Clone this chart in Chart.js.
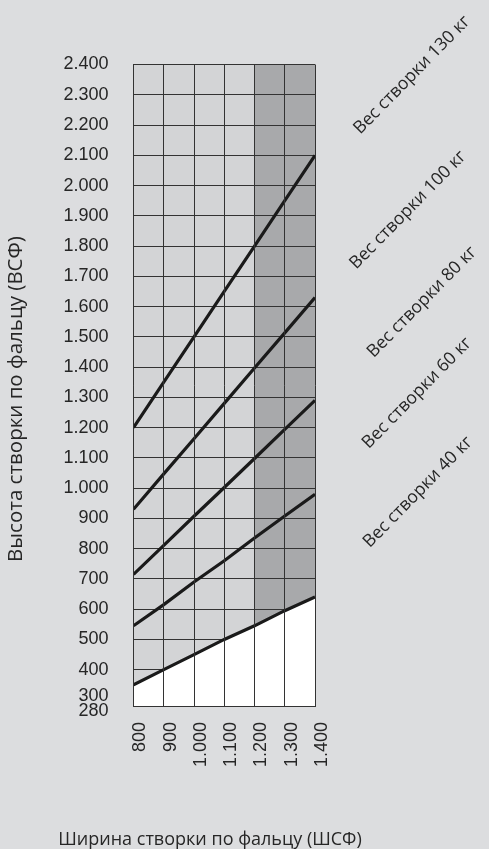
<!DOCTYPE html>
<html><head><meta charset="utf-8">
<script src="https://cdn.jsdelivr.net/npm/chart.js@4.4.0/dist/chart.umd.min.js"></script>
<style>html,body{margin:0;padding:0;background:#dcdddf;overflow:hidden}#wrap{width:489px;height:849px;position:relative}</style>
</head><body><div id="wrap"><canvas id="c"></canvas></div>
<script>
// ---- data ----
const widths = [800, 900, 1000, 1100, 1200, 1300, 1400];
const xTickLabels = ['800', '900', '1.000', '1.100', '1.200', '1.300', '1.400'];
const yTickValues = [280, 300, 400, 500, 600, 700, 800, 900, 1000, 1100, 1200, 1300, 1400, 1500, 1600, 1700, 1800, 1900, 2000, 2100, 2200, 2300, 2400];
const yTickLabels = ['280', '300', '400', '500', '600', '700', '800', '900', '1.000', '1.100', '1.200', '1.300', '1.400', '1.500', '1.600', '1.700', '1.800', '1.900', '2.000', '2.100', '2.200', '2.300', '2.400'];
const seriesNames = ['Вес створки 40 кг', 'Вес створки 60 кг', 'Вес створки 80 кг', 'Вес створки 100 кг', 'Вес створки 130 кг'];
const weight40 = [350, 400, 450, 500, 545, 595, 640];
const weight60 = [545, 615, 690, 760, 835, 908, 980];
const weight80 = [715, 811, 907, 1002, 1098, 1194, 1290];
const weight100 = [930, 1047, 1163, 1280, 1397, 1513, 1630];
const weight130 = [1200, 1350, 1500, 1650, 1800, 1950, 2100];
const darkZone = [1200, 1400];
const axisTitleY = 'Высота створки по фальцу (ВСФ)';
const axisTitleX = 'Ширина створки по фальцу (ШСФ)';

// ---- drawing ----
const series = [weight40, weight60, weight80, weight100, weight130];
const GRID = '#333333';
const LINE = '#1a1a1a';
const TEXT = '#262626';
const TITLE_FONT = '"Open Sans", "Noto Sans", sans-serif';
const TICK_FONT = '"Liberation Sans", Arial, sans-serif';

const bgPlugin = {
  id: 'bg',
  beforeDraw(chart) {
    const {ctx, chartArea: a, scales: {x}} = chart;
    ctx.save();
    ctx.fillStyle = '#dcdddf';
    ctx.fillRect(0, 0, chart.width, chart.height);
    ctx.fillStyle = '#d3d4d6';
    ctx.fillRect(a.left, a.top, a.right - a.left, a.bottom - a.top);
    const x0 = x.getPixelForValue(darkZone[0]);
    const x1 = x.getPixelForValue(darkZone[1]);
    ctx.fillStyle = '#a8a9ab';
    ctx.fillRect(x0, a.top, x1 - x0, a.bottom - a.top);
    ctx.restore();
  }
};

const labelPos = [
  [418, 492],
  [417, 393],
  [422, 302],
  [408, 210],
  [412, 75]
];

const textPlugin = {
  id: 'texts',
  afterDraw(chart) {
    const ctx = chart.ctx;
    ctx.save();
    ctx.fillStyle = TEXT;
    ctx.font = '17.5px ' + TITLE_FONT;
    ctx.textAlign = 'center';
    ctx.textBaseline = 'middle';
    seriesNames.forEach((name, i) => {
      const [cx, cy] = labelPos[i];
      ctx.save();
      ctx.translate(cx, cy);
      ctx.rotate(-45.5 * Math.PI / 180);
      ctx.fillText(name, 0, 0);
      ctx.restore();
    });
    // y title
    ctx.save();
    ctx.translate(16, 399);
    ctx.rotate(-Math.PI / 2);
    ctx.font = '20.5px ' + TITLE_FONT;
    ctx.fillText(axisTitleY, 0, 0);
    ctx.restore();
    // x title
    ctx.textBaseline = 'alphabetic';
    ctx.font = '18px ' + TITLE_FONT;
    ctx.fillText(axisTitleX, 210, 845);
    ctx.restore();
  }
};

new Chart(document.getElementById('c'), {
  type: 'line',
  data: {
    datasets: series.map((arr, i) => ({
      label: seriesNames[i],
      data: widths.map((w, k) => ({x: w, y: arr[k]})),
      borderColor: LINE,
      borderWidth: 3.2,
      pointRadius: 0,
      tension: 0,
      fill: i === 0 ? 'start' : false,
      backgroundColor: i === 0 ? '#ffffff' : 'transparent'
    }))
  },
  options: {
    responsive: true,
    maintainAspectRatio: false,
    animation: false,
    devicePixelRatio: 1,
    layout: {padding: {top: 64.5, right: 174, left: 0, bottom: 0}},
    plugins: {legend: {display: false}, tooltip: {enabled: false}},
    scales: {
      x: {
        type: 'linear', min: 800, max: 1400,
        afterBuildTicks: s => { s.ticks = widths.map(v => ({value: v})); },
        afterFit: s => { s.height = 143; },
        grid: {color: GRID, lineWidth: 1, drawTicks: false, z: 1},
        border: {display: true, color: GRID, width: 1, z: 1},
        ticks: {
          autoSkip: false, minRotation: 90, maxRotation: 90,
          padding: 16, labelOffset: 7, color: TEXT,
          font: {family: TICK_FONT, size: 18},
          callback: v => xTickLabels[widths.indexOf(v)]
        }
      },
      y: {
        type: 'linear', min: 280, max: 2400,
        afterBuildTicks: s => { s.ticks = yTickValues.map(v => ({value: v})); },
        afterFit: s => { s.width = 133.5; },
        grid: {color: GRID, lineWidth: 1, drawTicks: false},
        border: {display: true, color: GRID, width: 1},
        ticks: {
          autoSkip: false, padding: 25, color: TEXT,
          font: c => {
            const v = c.tick ? c.tick.value : null;
            let lh = 1.2;
            if (v === 300) lh = 0.43;
            if (v === 280) lh = 0.56;
            return {family: TICK_FONT, size: 18, lineHeight: lh};
          },
          callback: v => {
            const lbl = yTickLabels[yTickValues.indexOf(v)];
            if (v === 300) return [lbl, ''];
            if (v === 280) return ['', lbl];
            return lbl;
          }
        }
      }
    }
  },
  plugins: [bgPlugin, textPlugin]
});
</script>
</body></html>
